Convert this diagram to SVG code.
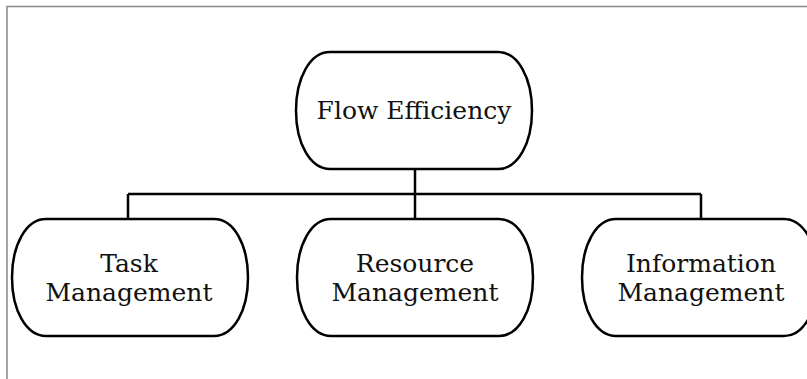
<svg xmlns="http://www.w3.org/2000/svg" xmlns:xlink="http://www.w3.org/1999/xlink" width="807" height="379" viewBox="0 0 807 379">
<style>
.node{fill:#fff;stroke:#000;stroke-width:2.5}
.conn{fill:none;stroke:#000;stroke-width:2.5}
.lbl{font-family:"DejaVu Serif","Liberation Serif",serif;font-size:25px;fill:#111;text-anchor:middle}
.frame{fill:none;stroke:#888;stroke-width:1.5}
</style>
<defs>
<path id="pill" d="M34,0 H202 C222,0 236,26 236,58.5 C236,91 222,117 202,117 H34 C14,117 0,91 0,58.5 C0,26 14,0 34,0 Z"/>
</defs>
<rect width="807" height="379" fill="#fff"/>
<path class="frame" d="M7,379 V6.5 H807"/>
<g id="connectors">
<path class="conn" d="M415,169 V194"/>
<path class="conn" d="M128,194 H701"/>
<path class="conn" d="M128,194 V219"/>
<path class="conn" d="M415,194 V219"/>
<path class="conn" d="M701,194 V219"/>
</g>
<g id="flow-efficiency">
<use class="node" href="#pill" xlink:href="#pill" x="296" y="52"/>
<text class="lbl" x="414" y="119">Flow Efficiency</text>
</g>
<g id="task-management">
<use class="node" href="#pill" xlink:href="#pill" x="12" y="219"/>
<text class="lbl" x="129" y="272">Task</text>
<text class="lbl" x="129" y="301">Management</text>
</g>
<g id="resource-management">
<use class="node" href="#pill" xlink:href="#pill" x="297" y="219"/>
<text class="lbl" x="415" y="272">Resource</text>
<text class="lbl" x="415" y="301">Management</text>
</g>
<g id="information-management">
<use class="node" href="#pill" xlink:href="#pill" x="582" y="219"/>
<text class="lbl" x="701" y="272">Information</text>
<text class="lbl" x="701" y="301">Management</text>
</g>
</svg>
